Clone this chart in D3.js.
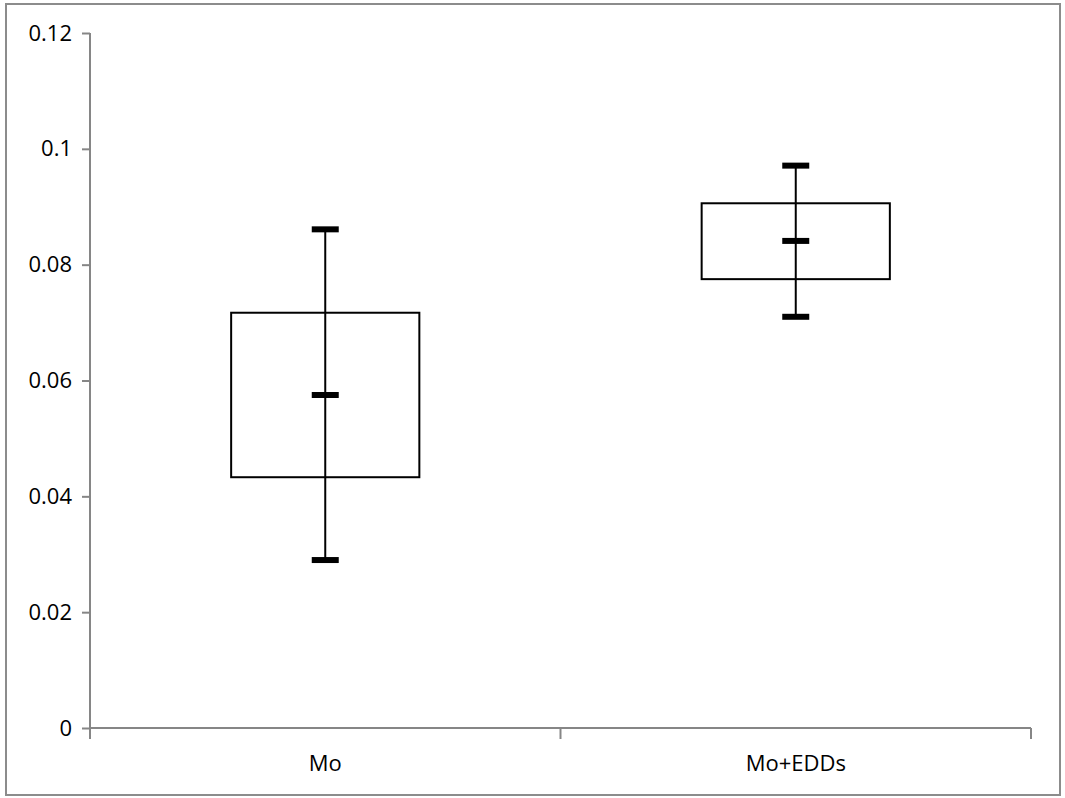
<!DOCTYPE html>
<html>
<head>
<meta charset="utf-8">
<script src="https://cdn.jsdelivr.net/npm/d3@7"></script>
<style>
  html, body { margin: 0; padding: 0; background: #fff; }
  svg { display: block; }
  text { font-family: "Open Sans", "Noto Sans", sans-serif; fill: #000; }
</style>
</head>
<body>
<svg id="chart" width="1065" height="798"></svg>
<script>
const categories = ["Mo", "Mo+EDDs"];
const boxLow   = [0.0433, 0.0775];
const boxHigh  = [0.0717, 0.0906];
const means    = [0.0575, 0.0841];
const whiskLow = [0.0290, 0.0710];
const whiskHigh= [0.0861, 0.0971];
const yTicks   = [0, 0.02, 0.04, 0.06, 0.08, 0.1, 0.12];
const yTickLabels = ["0", "0.02", "0.04", "0.06", "0.08", "0.1", "0.12"];

const svg = d3.select("#chart");
const W = 1065, H = 798;
const margin = {left: 90, right: 34, top: 33, bottom: 70};

// outer border
svg.append("rect").attr("x", 6).attr("y", 4).attr("width", 1054).attr("height", 791)
  .attr("fill", "#fff").attr("stroke", "#8c8c8c").attr("stroke-width", 2);

const x = d3.scaleBand().domain(categories).range([margin.left, W - margin.right]).paddingInner(0).paddingOuter(0);
const y = d3.scaleLinear().domain([0, 0.12]).range([H - margin.bottom, margin.top]);

const axisColor = "#868686";

// Y axis
const yAxis = svg.append("g").attr("transform", `translate(${margin.left},0)`)
  .call(d3.axisLeft(y).tickValues(yTicks).tickFormat((d, i) => yTickLabels[i]).tickSize(8).tickPadding(10));
yAxis.select(".domain").attr("stroke", axisColor).attr("stroke-width", 2).attr("d", `M0,${y(0.12)}V${y(0)+11}`);
yAxis.selectAll(".tick line").attr("stroke", axisColor).attr("stroke-width", 2);
yAxis.selectAll(".tick text").style("font-size", "22px").attr("fill", "#000");

// X axis
const xAxisG = svg.append("g").attr("transform", `translate(0,${y(0)})`);
xAxisG.append("line").attr("x1", margin.left).attr("x2", W - margin.right)
  .attr("y1", 0).attr("y2", 0).attr("stroke", axisColor).attr("stroke-width", 2);
const bounds = [margin.left, ...categories.map(c => x(c) + x.bandwidth())];
xAxisG.selectAll("line.xt").data(bounds).enter().append("line").attr("class", "xt")
  .attr("x1", d => d).attr("x2", d => d).attr("y1", 0).attr("y2", 11)
  .attr("stroke", axisColor).attr("stroke-width", 2);
xAxisG.selectAll("text").data(categories).enter().append("text")
  .attr("x", d => x(d) + x.bandwidth() / 2).attr("y", 43)
  .attr("text-anchor", "middle").style("font-size", "22px").text(d => d);

// boxes
const boxW = x.bandwidth() * 0.4;
const capW = 27;
const g = svg.append("g");
categories.forEach((c, i) => {
  const cx = x(c) + x.bandwidth() / 2;
  g.append("rect").attr("x", cx - boxW / 2).attr("y", y(boxHigh[i]))
    .attr("width", boxW).attr("height", y(boxLow[i]) - y(boxHigh[i]))
    .attr("fill", "#fff").attr("stroke", "#000").attr("stroke-width", 2);
  g.append("line").attr("x1", cx).attr("x2", cx).attr("y1", y(whiskHigh[i])).attr("y2", y(whiskLow[i]))
    .attr("stroke", "#000").attr("stroke-width", 2);
  [whiskHigh[i], means[i], whiskLow[i]].forEach(v => {
    g.append("line").attr("x1", cx - capW / 2).attr("x2", cx + capW / 2)
      .attr("y1", y(v)).attr("y2", y(v)).attr("stroke", "#000").attr("stroke-width", 6);
  });
});
</script>
</body>
</html>
